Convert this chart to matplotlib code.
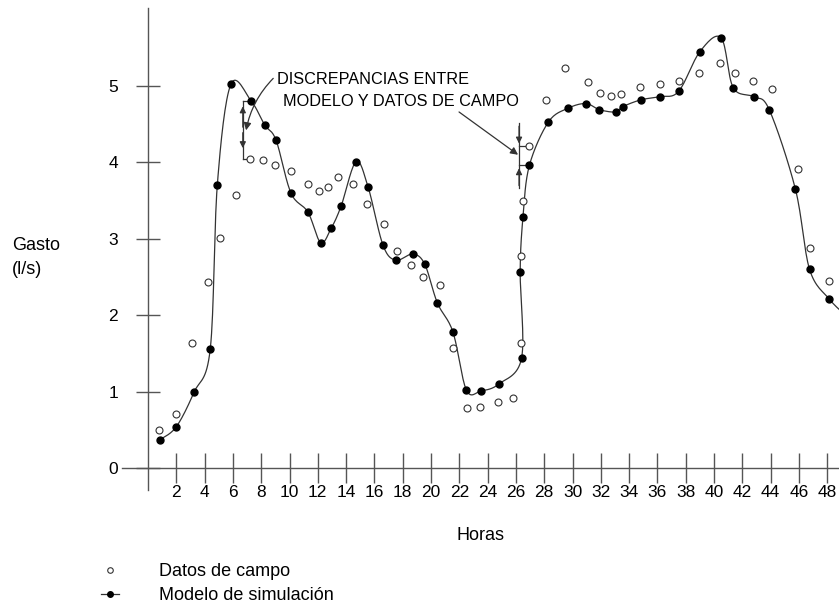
import numpy as np
import matplotlib
matplotlib.use("Agg")
import matplotlib.pyplot as plt
from matplotlib.lines import Line2D

plt.rcParams['font.family'] = ['Liberation Sans', 'DejaVu Sans']

# field measurements (open circles)
field_x = [0.8, 2.0, 3.1, 4.25, 5.1, 6.2, 7.2, 8.1, 9.0, 10.1, 11.3, 12.05, 12.75, 13.4, 14.5,
           15.5, 16.7, 17.6, 18.6, 19.45, 20.65, 21.55, 22.55, 23.45, 24.75, 25.8, 26.35, 26.35,
           26.5, 26.95, 28.15, 29.5, 31.1, 31.95, 32.7, 33.45, 34.75, 36.2, 37.55, 38.95, 40.45,
           41.5, 42.75, 44.1, 45.95, 46.75, 48.15]
field_y = [0.50, 0.71, 1.63, 2.43, 3.01, 3.57, 4.05, 4.03, 3.97, 3.89, 3.72, 3.62, 3.68, 3.81, 3.72,
           3.45, 3.19, 2.84, 2.66, 2.50, 2.39, 1.57, 0.79, 0.80, 0.86, 0.91, 1.63, 2.77,
           3.49, 4.21, 4.82, 5.23, 5.05, 4.91, 4.87, 4.90, 4.99, 5.03, 5.07, 5.17, 5.30,
           5.17, 5.07, 4.96, 3.92, 2.88, 2.45]

# simulation model (filled dots + line)
model_x = [0.85, 2.0, 3.25, 4.4, 4.9, 5.85, 7.3, 8.25, 9.05, 10.1, 11.3, 12.2, 12.95, 13.65, 14.7,
           15.55, 16.6, 17.5, 18.7, 19.55, 20.45, 21.55, 22.5, 23.55, 24.8, 26.4, 26.3, 26.5, 26.95,
           28.3, 29.7, 30.95, 31.9, 33.05, 33.55, 34.85, 36.2, 37.5, 39.0, 40.5, 41.35, 42.8, 43.9,
           45.75, 46.75, 48.15, 49.3]
model_y = [0.37, 0.54, 0.99, 1.56, 3.71, 5.02, 4.80, 4.49, 4.29, 3.60, 3.35, 2.95, 3.14, 3.43, 4.01,
           3.68, 2.92, 2.72, 2.80, 2.67, 2.16, 1.78, 1.02, 1.01, 1.10, 1.44, 2.57, 3.29, 3.96,
           4.53, 4.71, 4.77, 4.69, 4.66, 4.73, 4.82, 4.86, 4.93, 5.45, 5.63, 4.98, 4.86, 4.69,
           3.65, 2.60, 2.21, 2.00]

x_ticks = list(range(2, 50, 2))
y_ticks = [0, 1, 2, 3, 4, 5]

# discrepancy brackets: x position, model value, field value
disc_x = [6.7, 26.22]
disc_model = [4.80, 3.96]
disc_field = [4.05, 4.21]
disc_end = [7.3, 26.95]

# parametric catmull-rom to get the smooth hand-drawn look
def smooth(xs, ys, n=16):
    sx, sy = 14.15, 76.4
    p = np.column_stack([np.array(xs) * sx, np.array(ys) * sy])
    p = np.vstack([p[0], p, p[-1]])
    out = []
    t = np.linspace(0, 1, n, endpoint=False)[:, None]
    for i in range(1, len(p) - 2):
        p0, p1, p2, p3 = p[i - 1], p[i], p[i + 1], p[i + 2]
        seg = 0.5 * ((2 * p1) + (-p0 + p2) * t + (2 * p0 - 5 * p1 + 4 * p2 - p3) * t ** 2
                     + (-p0 + 3 * p1 - 3 * p2 + p3) * t ** 3)
        out.append(seg)
    out.append(p[-2][None, :])
    out = np.vstack(out)
    return out[:, 0] / sx, out[:, 1] / sy

fig = plt.figure(figsize=(8.39, 6.12), dpi=100)
ax = fig.add_axes([122 / 839, 1 - 490 / 612, 717 / 839, 482 / 612])
ax.set_xlim(-1.837, 48.83)
ax.set_ylim(-0.288, 6.021)

for s in ['top', 'right']:
    ax.spines[s].set_visible(False)
ax.spines['left'].set_position(('data', 0))
ax.spines['bottom'].set_position(('data', 0))
for s in ['left', 'bottom']:
    ax.spines[s].set_color('#555555')
    ax.spines[s].set_linewidth(1.0)

ax.set_xticks(x_ticks)
ax.set_yticks(y_ticks)
ax.tick_params(axis='x', direction='inout', length=21, width=1, color='#555555',
               pad=2, labelsize=12.5)
ax.tick_params(axis='y', direction='inout', length=17, width=1, color='#555555',
               pad=13, labelsize=12.5)

lx, ly = smooth(model_x, model_y)
ax.plot(lx, ly, color='#333333', lw=0.9, zorder=2)
ax.plot(model_x, model_y, 'o', color='black', ms=5, zorder=3)
ax.plot(field_x, field_y, 'o', mfc='white', mec='#333333', mew=0.8, ms=5, zorder=4)

# bracket 1: arrows inside pointing outward
ax.plot([disc_x[0], disc_x[0]], [disc_field[0], disc_model[0]], color='#333333', lw=0.9)
ax.plot([disc_x[0], disc_end[0] - 0.15], [disc_model[0], disc_model[0]], color='#333333', lw=0.9)
ax.plot([disc_x[0], disc_end[0] - 0.15], [disc_field[0], disc_field[0]], color='#333333', lw=0.9)
mid = (disc_model[0] + disc_field[0]) / 2
ax.annotate('', xy=(disc_x[0], disc_model[0] - 0.03), xytext=(disc_x[0], mid),
            arrowprops=dict(arrowstyle='-|>', color='#333333', lw=0.9, mutation_scale=9))
ax.annotate('', xy=(disc_x[0], disc_field[0] + 0.1), xytext=(disc_x[0], mid),
            arrowprops=dict(arrowstyle='-|>', color='#333333', lw=0.9, mutation_scale=9))

# bracket 2: arrows outside pointing inward
ax.plot([disc_x[1], disc_x[1]], [3.66, 4.51], color='#333333', lw=0.9)
ax.plot([disc_x[1], disc_end[1] - 0.15], [disc_field[1], disc_field[1]], color='#333333', lw=0.9)
ax.plot([disc_x[1], disc_end[1] - 0.15], [disc_model[1], disc_model[1]], color='#333333', lw=0.9)
ax.annotate('', xy=(disc_x[1], disc_field[1]), xytext=(disc_x[1], 4.51),
            arrowprops=dict(arrowstyle='-|>', color='#333333', lw=0.9, mutation_scale=9))
ax.annotate('', xy=(disc_x[1], disc_model[1]), xytext=(disc_x[1], 3.66),
            arrowprops=dict(arrowstyle='-|>', color='#333333', lw=0.9, mutation_scale=9))

ax.text(9.1, 5.08, 'DISCREPANCIAS ENTRE', fontsize=11.7, va='center', ha='left')
ax.text(9.55, 4.80, 'MODELO Y DATOS DE CAMPO', fontsize=11.7, va='center', ha='left')

ax.annotate('', xy=(6.93, 4.42), xytext=(8.85, 5.1),
            arrowprops=dict(arrowstyle='-|>', color='#333333', lw=0.9, mutation_scale=11,
                            connectionstyle='arc3,rad=0.15', shrinkA=0, shrinkB=0))
ax.annotate('', xy=(26.15, 4.10), xytext=(21.98, 4.66),
            arrowprops=dict(arrowstyle='-|>', color='#333333', lw=0.9, mutation_scale=11,
                            shrinkA=0, shrinkB=0))

fig.text(12 / 839, 1 - 245 / 612, 'Gasto', fontsize=13, va='center', ha='left')
fig.text(12 / 839, 1 - 270 / 612, '(l/s)', fontsize=13, va='center', ha='left')
fig.text(480 / 839, 1 - 535 / 612, 'Horas', fontsize=13, va='center', ha='center')

handles = [
    Line2D([], [], ls='none', marker='o', mfc='white', mec='#333333', mew=0.8, ms=4),
    Line2D([], [], color='#333333', lw=0.9, marker='o', mfc='black', mec='black', ms=4),
]
fig.legend(handles, ['Datos de campo', 'Modelo de simulación'], loc='upper left',
           bbox_to_anchor=(101 / 839, 1 - 563 / 612), frameon=False, fontsize=13,
           handlelength=1.0, handletextpad=2.2, labelspacing=0.4, borderpad=0,
           borderaxespad=0)

fig.savefig('out.png', dpi=100)
